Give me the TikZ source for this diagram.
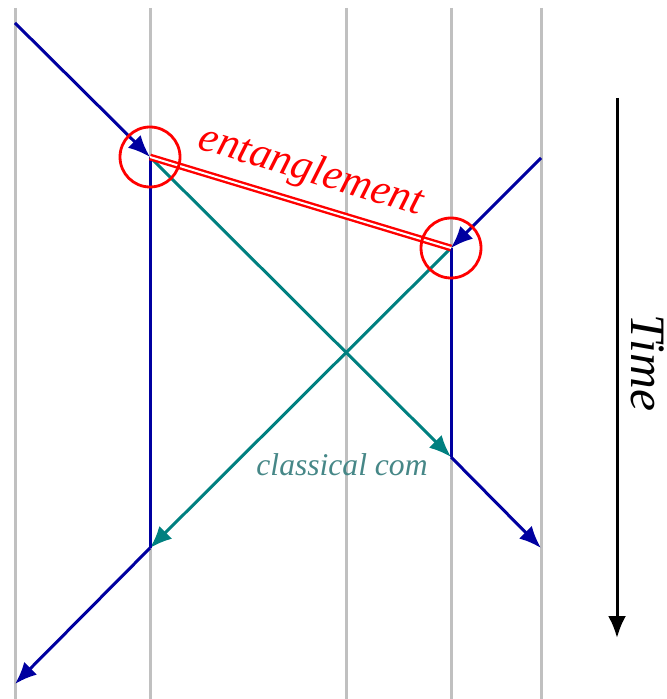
\documentclass[tikz,border=0pt]{standalone}
\usepackage{fontspec}
\setmainfont{Liberation Serif}
\usetikzlibrary{arrows.meta}
\definecolor{wline}{RGB}{192,192,192}
\definecolor{qblue}{RGB}{0,0,160}
\definecolor{qteal}{RGB}{0,128,128}
\definecolor{cteal}{RGB}{70,135,135}
\tikzset{
  world/.style={draw=wline, line width=1.5pt},
  bpath/.style={draw=qblue, line width=1.5pt},
  tpath/.style={draw=qteal, line width=1.5pt},
  tip/.style={-{Latex[length=11pt,width=9pt]}},
  ent/.style={draw=red, double=white, line width=1.2pt, double distance=1pt},
  ring/.style={circle, draw=red, line width=1.4pt, minimum size=30pt, inner sep=0pt},
}
\begin{document}
\begin{tikzpicture}[x=0.5pt,y=-0.5pt]
\useasboundingbox (0,0) rectangle (666,699);
% world lines
\foreach \x/\n in {15/w1,150/w2,346/w3,451/w4,541/w5}{
  \coordinate (\n t) at (\x,8);
  \coordinate (\n b) at (\x,699);
  \draw[world] (\n t) -- (\n b);
}
\coordinate (A0) at (15,23);
\coordinate (A1) at (150,157);
\coordinate (A2) at (150,548);
\coordinate (A3) at (15,684);
\coordinate (B0) at (541,158);
\coordinate (B1) at (451,248);
\coordinate (B2) at (451,457);
\coordinate (B3) at (541,548);
% classical communication
\draw[tpath,tip] (A1) -- (B2);
\draw[tpath,tip] (B1) -- (A2);
% particle paths
\draw[bpath,tip] (A0) -- (A1);
\draw[bpath] (A1) -- (A2);
\draw[bpath,tip] (A2) -- (A3);
\draw[bpath,tip] (B0) -- (B1);
\draw[bpath] (B1) -- (B2);
\draw[bpath,tip] (B2) -- (B3);
% entanglement
\draw[ent] (A1) -- (B1);
\node[ring] (r1) at (A1) {};
\node[ring] (r2) at (B1) {};
\node[anchor=base, rotate=-16.8, text=red, font=\fontsize{21.5}{24}\selectfont\itshape, inner sep=0pt] (ent) at (307.7,181.8) {entanglement};
\node[anchor=base, text=cteal, font=\fontsize{15.8}{18}\selectfont\itshape, inner sep=0pt] (cc) at (342,475) {classical com};
% time
\coordinate (T0) at (617,98);
\coordinate (T1) at (617,638);
\draw[line width=1.5pt, -{Latex[length=11pt,width=9pt]}] (T0) -- (T1);
\node[rotate=-90, font=\fontsize{24.75}{28}\selectfont\itshape, inner sep=0pt] (time) at (648,363) {Time};
\end{tikzpicture}
\end{document}
